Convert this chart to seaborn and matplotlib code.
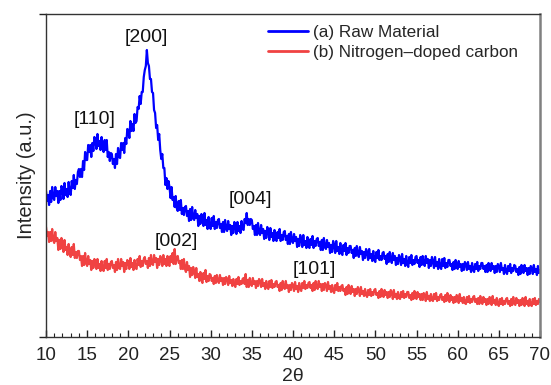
import pandas as pd
import matplotlib
matplotlib.use("Agg")
import matplotlib.pyplot as plt
from matplotlib.ticker import MultipleLocator
import seaborn as sns

# 2-theta grid: 10 to 70 degrees in 0.125 degree steps (one row per degree below)
two_theta = [10 + 0.125 * i for i in range(481)]

# (a) Raw material intensity (a.u.)
raw_material = [
    146, 136, 142, 132, 146, 135, 150, 139,
    137, 150, 141, 146, 134, 146, 137, 151,
    148, 138, 154, 142, 148, 140, 155, 144,
    142, 156, 149, 162, 148, 157, 153, 165,
    168, 160, 168, 160, 176, 167, 185, 177,
    177, 192, 185, 192, 180, 194, 186, 200,
    197, 188, 203, 191, 196, 187, 200, 189,
    185, 197, 187, 197, 180, 185, 176, 184,
    183, 173, 178, 169, 183, 173, 189, 180,
    179, 194, 187, 194, 184, 199, 193, 208,
    207, 199, 216, 206, 213, 206, 223, 214,
    216, 230, 228, 241, 233, 245, 245, 260,
    267, 271, 287, 274, 271, 258, 258, 245,
    244, 227, 224, 209, 212, 197, 203, 187,
    178, 183, 169, 169, 152, 159, 148, 156,
    150, 139, 150, 137, 140, 130, 141, 129,
    126, 136, 127, 137, 123, 129, 122, 130,
    131, 121, 126, 116, 128, 117, 130, 119,
    117, 127, 119, 123, 111, 121, 113, 123,
    120, 111, 124, 112, 117, 108, 120, 110,
    108, 119, 111, 121, 108, 115, 109, 117,
    118, 109, 113, 105, 115, 105, 117, 108,
    106, 116, 108, 112, 102, 111, 104, 115,
    111, 103, 115, 106, 111, 104, 116, 108,
    107, 118, 114, 124, 112, 118, 112, 118,
    117, 108, 111, 102, 112, 102, 114, 104,
    102, 112, 104, 108, 98, 106, 99, 110,
    106, 97, 109, 100, 104, 96, 107, 98,
    96, 105, 99, 108, 96, 102, 97, 105,
    106, 97, 101, 93, 103, 93, 105, 96,
    94, 103, 96, 100, 90, 98, 91, 102,
    98, 90, 102, 92, 96, 89, 100, 91,
    89, 98, 92, 101, 89, 96, 91, 98,
    99, 91, 95, 87, 97, 87, 99, 90,
    88, 97, 90, 94, 84, 92, 85, 96,
    92, 84, 96, 86, 90, 83, 94, 84,
    82, 92, 86, 94, 82, 89, 84, 91,
    91, 84, 87, 79, 89, 81, 91, 83,
    80, 90, 83, 86, 77, 85, 79, 88,
    85, 77, 88, 79, 83, 76, 86, 77,
    75, 85, 79, 87, 77, 81, 77, 84,
    85, 78, 81, 73, 83, 75, 85, 78,
    74, 84, 77, 81, 72, 79, 73, 82,
    79, 72, 83, 74, 78, 71, 81, 73,
    70, 80, 74, 82, 72, 77, 73, 80,
    81, 74, 77, 70, 80, 72, 81, 74,
    71, 81, 74, 78, 69, 77, 71, 80,
    76, 69, 80, 71, 75, 68, 78, 70,
    68, 78, 71, 79, 69, 74, 70, 77,
    77, 71, 73, 67, 75, 68, 77, 71,
    68, 76, 70, 73, 66, 73, 67, 75,
    73, 67, 75, 68, 71, 65, 74, 67,
    65, 73, 68, 75, 66, 71, 68, 74,
    74, 68, 71, 65, 72, 65, 74, 68,
    66, 74, 68, 71, 64, 71, 65, 73,
    71, 65, 74, 67, 69, 63, 72, 65,
    63, 71, 66, 73, 64, 69, 66, 72,
    71, 65, 68, 62, 70, 63, 72, 66,
    64, 72, 66, 69, 62, 69, 63, 71,
    69, 63, 72, 65, 68, 62, 71, 64,
    67,
]

# (b) Nitrogen-doped carbon intensity (a.u.)
n_doped_carbon = [
    110, 101, 105, 95, 105, 96, 108, 97,
    94, 105, 96, 99, 87, 97, 88, 99,
    95, 85, 97, 87, 90, 82, 93, 84,
    80, 90, 82, 93, 79, 85, 79, 86,
    86, 77, 81, 71, 81, 72, 84, 74,
    71, 81, 73, 77, 67, 76, 69, 78,
    75, 68, 78, 69, 73, 66, 76, 68,
    66, 76, 69, 78, 67, 73, 68, 75,
    76, 69, 72, 65, 75, 67, 78, 69,
    68, 78, 71, 75, 65, 74, 68, 77,
    75, 68, 79, 70, 74, 67, 77, 69,
    68, 78, 72, 81, 70, 76, 71, 78,
    80, 73, 76, 69, 79, 71, 82, 73,
    72, 82, 75, 79, 69, 78, 72, 81,
    78, 71, 82, 73, 78, 71, 81, 73,
    71, 81, 75, 84, 73, 88, 73, 80,
    81, 74, 76, 68, 77, 68, 78, 68,
    65, 75, 67, 71, 60, 69, 62, 70,
    66, 59, 69, 60, 63, 56, 65, 57,
    54, 64, 58, 67, 55, 61, 56, 63,
    62, 56, 59, 53, 61, 54, 62, 56,
    54, 62, 56, 59, 52, 59, 53, 60,
    58, 52, 61, 54, 57, 51, 58, 52,
    50, 58, 53, 60, 52, 56, 53, 58,
    59, 53, 63, 50, 57, 50, 59, 53,
    51, 59, 53, 56, 49, 56, 51, 58,
    56, 50, 58, 51, 54, 48, 56, 50,
    48, 56, 50, 57, 49, 53, 50, 55,
    56, 50, 52, 46, 54, 47, 56, 50,
    48, 56, 49, 52, 45, 52, 47, 54,
    52, 46, 55, 48, 51, 45, 54, 48,
    46, 54, 49, 56, 48, 52, 49, 54,
    55, 49, 52, 46, 54, 47, 56, 50,
    48, 56, 50, 53, 46, 53, 47, 54,
    52, 46, 55, 48, 51, 45, 52, 46,
    44, 52, 47, 54, 46, 50, 46, 51,
    52, 46, 48, 42, 50, 43, 52, 46,
    43, 51, 45, 48, 41, 48, 43, 50,
    47, 41, 50, 43, 46, 41, 48, 42,
    40, 47, 42, 48, 41, 45, 42, 47,
    48, 42, 44, 39, 46, 40, 48, 42,
    40, 47, 42, 45, 39, 45, 40, 47,
    44, 38, 47, 40, 43, 38, 45, 39,
    38, 45, 40, 46, 39, 43, 40, 45,
    45, 39, 42, 37, 44, 38, 46, 40,
    38, 45, 40, 43, 37, 43, 37, 44,
    42, 36, 45, 38, 41, 36, 43, 37,
    36, 43, 38, 44, 36, 40, 37, 42,
    43, 37, 40, 35, 42, 36, 44, 38,
    35, 42, 37, 40, 34, 40, 35, 42,
    40, 34, 43, 36, 39, 34, 40, 34,
    33, 40, 35, 41, 34, 38, 35, 40,
    41, 35, 38, 33, 39, 33, 41, 35,
    33, 40, 35, 38, 32, 38, 33, 40,
    38, 32, 41, 34, 37, 32, 39, 33,
    31, 38, 33, 39, 32, 36, 33, 38,
    39, 33, 36, 31, 38, 32, 40, 34,
    32, 39, 34, 37, 31, 37, 32, 39,
    37, 31, 40, 33, 36, 31, 38, 32,
    31, 38, 33, 39, 32, 36, 33, 38,
    35,
]

series_labels = ["(a) Raw Material", "(b) Nitrogen\u2013doped carbon"]
peak_labels = ["[110]", "[200]", "[004]", "[002]", "[101]"]
peak_x = [15.9, 22.2, 34.8, 25.8, 42.6]
peak_y = [217, 299, 137, 96, 68]

x_ticks = list(range(10, 71, 5))

df = pd.DataFrame({
    "two_theta": two_theta * 2,
    "intensity": raw_material + n_doped_carbon,
    "sample": [series_labels[0]] * len(raw_material) + [series_labels[1]] * len(n_doped_carbon),
})

sns.set_style("ticks")
plt.rcParams["font.family"] = ["Liberation Sans", "DejaVu Sans"]

fig = plt.figure(figsize=(5.51, 3.85), dpi=100)
ax = fig.add_axes([46 / 551, 1 - 337 / 385, 494 / 551, 323 / 385])

sns.lineplot(
    data=df, x="two_theta", y="intensity", hue="sample",
    palette=["#0000FF", "#F04242"], estimator=None, sort=False,
    linewidth=1.6, ax=ax,
)

for text, px, py in zip(peak_labels, peak_x, peak_y):
    ax.text(px, py, text, ha="center", va="center", fontsize=14, color="#111111")

ax.set_xlim(10, 70)
ax.set_ylim(0, 323)
ax.set_xticks(x_ticks)
ax.xaxis.set_minor_locator(MultipleLocator(1))
ax.tick_params(axis="x", which="major", direction="in", length=5, width=1,
               labelsize=13.5, pad=7.5, colors="#222222")
ax.tick_params(axis="x", which="minor", direction="in", length=3, width=0.8,
               colors="#222222")
ax.set_yticks([0, 323])
ax.set_yticklabels([])
ax.tick_params(axis="y", which="major", direction="out", length=5, width=1,
               colors="#222222")

for side in ["left", "top", "bottom"]:
    ax.spines[side].set_color("#333333")
    ax.spines[side].set_linewidth(1.0)
ax.spines["right"].set_color("#808080")
ax.spines["right"].set_linewidth(1.8)

ax.set_xlabel("2\u03b8", fontsize=14, labelpad=2.5)
ax.set_ylabel("Intensity (a.u.)", fontsize=14.5, labelpad=-1)

leg = ax.legend(loc="upper left", bbox_to_anchor=(0.449, 0.966), frameon=False,
                fontsize=12.3, handlelength=2.35, handletextpad=0.3,
                labelspacing=0.28, borderpad=0, borderaxespad=0)
for line in leg.get_lines():
    line.set_linewidth(2)

fig.savefig("out.png", dpi=100)
